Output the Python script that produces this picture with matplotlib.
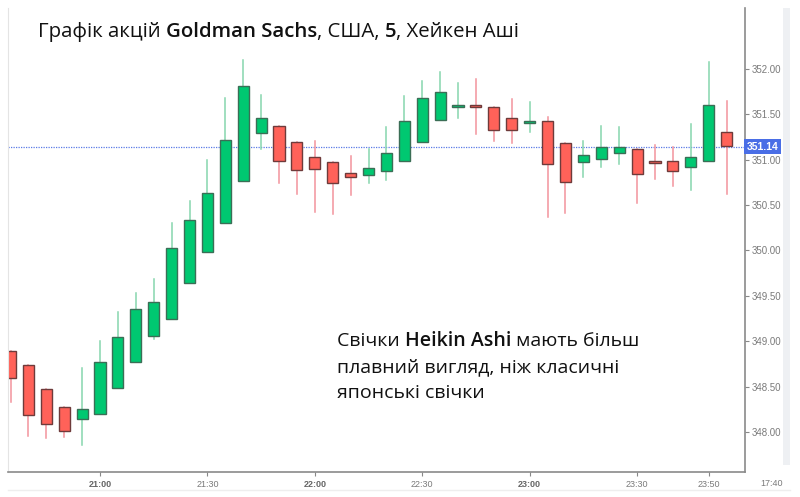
import matplotlib
matplotlib.use("Agg")
import matplotlib.pyplot as plt
from matplotlib.patches import Rectangle
from matplotlib.transforms import blended_transform_factory

plt.rcParams['font.family'] = ['Open Sans', 'DejaVu Sans']

# 5-minute Heikin Ashi candles, 20:35 .. 23:55
times = ['20:35', '20:40', '20:45', '20:50', '20:55',
         '21:00', '21:05', '21:10', '21:15', '21:20', '21:25',
         '21:30', '21:35', '21:40', '21:45', '21:50', '21:55',
         '22:00', '22:05', '22:10', '22:15', '22:20', '22:25',
         '22:30', '22:35', '22:40', '22:45', '22:50', '22:55',
         '23:00', '23:05', '23:10', '23:15', '23:20', '23:25',
         '23:30', '23:35', '23:40', '23:45', '23:50', '23:55']
opens = [348.89, 348.74, 348.47, 348.28, 348.14,
         348.20, 348.48, 348.77, 349.06, 349.25, 349.64,
         349.98, 350.30, 350.76, 351.29, 351.37, 351.19,
         351.03, 350.97, 350.85, 350.83, 350.87, 350.98,
         351.19, 351.44, 351.58, 351.60, 351.58, 351.46,
         351.40, 351.42, 351.18, 350.97, 351.01, 351.07,
         351.12, 350.98, 350.98, 350.92, 350.98, 351.30]
highs = [348.89, 348.74, 348.47, 348.28, 348.70,
         349.00, 349.32, 349.53, 349.69, 350.30, 350.54,
         351.00, 351.68, 352.10, 351.71, 351.37, 351.19,
         351.21, 350.97, 351.04, 351.12, 351.36, 351.70,
         351.87, 351.97, 351.84, 351.89, 351.58, 351.67,
         351.63, 351.47, 351.18, 351.21, 351.37, 351.36,
         351.12, 351.16, 351.14, 351.39, 352.08, 351.65]
lows = [348.33, 347.96, 347.93, 347.95, 347.86,
        348.20, 348.48, 348.77, 349.03, 349.25, 349.64,
        349.98, 350.30, 350.76, 351.12, 350.74, 350.62,
        350.42, 350.40, 350.61, 350.74, 350.78, 350.98,
        351.19, 351.44, 351.46, 351.28, 351.20, 351.18,
        351.30, 350.37, 350.41, 350.81, 350.92, 350.95,
        350.52, 350.79, 350.71, 350.67, 350.98, 350.62]
closes = [348.59, 348.19, 348.09, 348.01, 348.25,
          348.77, 349.05, 349.36, 349.43, 350.03, 350.33,
          350.63, 351.22, 351.81, 351.46, 350.99, 350.89,
          350.90, 350.74, 350.81, 350.91, 351.07, 351.42,
          351.68, 351.74, 351.60, 351.58, 351.33, 351.33,
          351.43, 350.95, 350.75, 351.05, 351.14, 351.14,
          350.84, 350.96, 350.87, 351.03, 351.60, 351.15]
last_price = 351.14
tick_times = ['21:00', '21:30', '22:00', '22:30', '23:00', '23:30', '23:50']
y_ticks = [348.0, 348.5, 349.0, 349.5, 350.0, 350.5, 351.0, 351.5, 352.0]

GREEN = '#00c871'
GREEN_EDGE = '#3b6e56'
GREEN_WICK = '#86d6ad'
RED = '#ff6259'
RED_EDGE = '#6e3b3b'
RED_WICK = '#f3939c'

fig = plt.figure(figsize=(8, 4.97), dpi=100)
ax = fig.add_axes([0.01, 0.0503, 0.92125, 0.9337])

width = 0.62
for i in range(len(times)):
    o, h, l, c = opens[i], highs[i], lows[i], closes[i]
    up = c >= o
    body, edge, wick = (GREEN, GREEN_EDGE, GREEN_WICK) if up else (RED, RED_EDGE, RED_WICK)
    ax.plot([i, i], [l, h], color=wick, lw=1.1, zorder=1)
    bottom = min(o, c)
    height = max(abs(c - o), 0.015)
    ax.add_patch(Rectangle((i - width / 2, bottom), width, height,
                           facecolor=body, edgecolor=edge, lw=1.0, zorder=2))

ax.axhline(last_price, color='#5a7be6', lw=0.9, ls=(0, (1, 1)), zorder=0)

ax.set_xlim(-0.14, 41.03)
ax.set_ylim(347.56, 352.67)

ax.yaxis.tick_right()
ax.set_yticks(y_ticks)
ax.set_yticklabels(['%.2f' % v for v in y_ticks])
ax.tick_params(axis='y', direction='out', length=3, width=0.8, color='#888888',
               labelsize=7, labelcolor='#7a7a7a', pad=2)
for lbl in ax.get_yticklabels():
    lbl.set_family('Liberation Sans')

ax.set_xticks([times.index(t) for t in tick_times])
ax.set_xticklabels(tick_times)
ax.tick_params(axis='x', direction='out', length=3, width=0.8, color='#888888',
               labelsize=6.5, labelcolor='#7a7a7a', pad=3)
for lbl in ax.get_xticklabels():
    lbl.set_family('Liberation Sans')
    if lbl.get_text().endswith(':00'):
        lbl.set_fontweight('bold')
        lbl.set_color('#666666')

ax.spines['top'].set_visible(False)
ax.spines['left'].set_color('#e4e4e4')
ax.spines['right'].set_color('#8a8a8a')
ax.spines['bottom'].set_color('#8a8a8a')
ax.spines['right'].set_linewidth(1.2)
ax.spines['bottom'].set_linewidth(1.2)

# price label box on the axis
trans = blended_transform_factory(ax.transAxes, ax.transData)
ax.text(1.002, last_price, '351.14', transform=trans, ha='left', va='center',
        family='Liberation Sans', fontsize=7.5, fontweight='bold', color='white',
        bbox=dict(boxstyle='square,pad=0.25', facecolor='#4a6ee6', edgecolor='none'))

# right grey strip and bottom line
fig.patches.append(Rectangle((783 / 800, 32 / 497), 7 / 800, 457 / 497,
                             transform=fig.transFigure, facecolor='#eef0f3',
                             edgecolor='none', zorder=0))
fig.add_artist(plt.Line2D([8 / 800, 790 / 800], [7 / 497, 7 / 497],
                          transform=fig.transFigure, color='#eeeeee', lw=1))
fig.text(772 / 800, 1 - 483 / 497, '17:40', ha='center', va='center',
         family='Liberation Sans', fontsize=6.5, color='#7a7a7a')


def chain(x, y, parts, size):
    # one line of text made of normal and bold pieces
    first, weight = parts[0]
    prev = fig.text(x, y, first, fontsize=size, fontweight=weight,
                    color='#111111', ha='left', va='bottom')
    for s, w in parts[1:]:
        prev = ax.annotate(s, xy=(1, 0), xycoords=prev, ha='left', va='bottom',
                           fontsize=size, fontweight=w, color='#111111',
                           annotation_clip=False)
    return prev


chain(38 / 800, 1 - 42 / 497,
      [('Графік акцій ', 'normal'), ('Goldman Sachs', 'semibold'),
       (', США, ', 'normal'), ('5', 'semibold'), (', Хейкен Аші', 'normal')], 14.7)

chain(337 / 800, 1 - 350.5 / 497,
      [('Свічки ', 'normal'), ('Heikin Ashi', 'semibold'), (' мають більш', 'normal')], 14)
fig.text(337 / 800, 1 - 376.5 / 497, 'плавний вигляд, ніж класичні',
         fontsize=14, color='#111111', ha='left', va='bottom')
fig.text(337 / 800, 1 - 402.5 / 497, 'японські свічки',
         fontsize=14, color='#111111', ha='left', va='bottom')

fig.savefig('out.png', dpi=100)
